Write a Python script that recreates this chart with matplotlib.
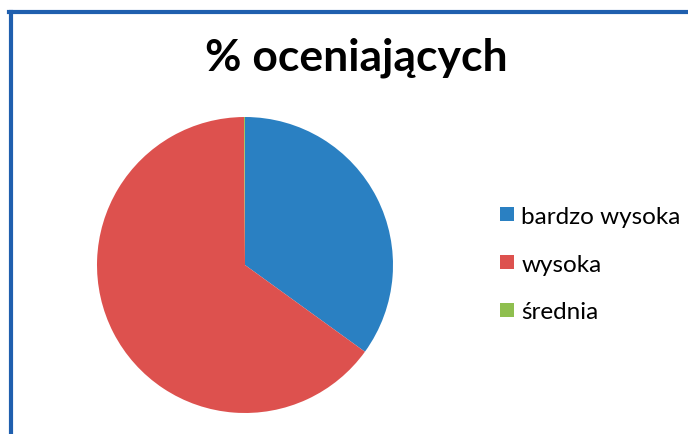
import matplotlib.pyplot as plt
from matplotlib.lines import Line2D

# data
labels = ["bardzo wysoka", "wysoka", "średnia"]
values = [35, 65, 0.1]
colors = ["#2a80c2", "#dd514e", "#8fbf4f"]

plt.rcParams["font.family"] = ["Lato", "DejaVu Sans"]

fig = plt.figure(figsize=(6.88, 4.35), dpi=100)

# pie axes: center (245, 266), radius 148 px
cx, cy, r = 245, 266, 148
ax = fig.add_axes([(cx - r) / 688, (435 - cy - r) / 435, 2 * r / 688, 2 * r / 435])
ax.pie(values, colors=colors, startangle=90, counterclock=False,
       wedgeprops=dict(linewidth=0))
ax.set_xlim(-1, 1)
ax.set_ylim(-1, 1)
ax.set_aspect("equal")

fig.text(356 / 688, 1 - 58 / 435, "% oceniających", ha="center", va="center",
         fontsize=32, fontweight="bold")

# legend
handles = [Line2D([], [], marker="s", linestyle="none", markersize=10.5,
                  markerfacecolor=c, markeredgewidth=0) for c in colors]
fig.legend(handles, labels, loc="center left", bbox_to_anchor=(486 / 688, 1 - 265 / 435),
           frameon=False, fontsize=17.5, handletextpad=0.15, labelspacing=1.1,
           handlelength=0.9, borderaxespad=0)

# blue chart border
bc = "#1f5fae"
fig.add_artist(Line2D([10.5 / 688, 10.5 / 688], [0, 1 - 12.5 / 435], transform=fig.transFigure,
                      color=bc, linewidth=3))
fig.add_artist(Line2D([9 / 688, 1], [1 - 12.5 / 435, 1 - 12.5 / 435], transform=fig.transFigure,
                      color=bc, linewidth=3))

fig.savefig("out.png", dpi=100)
